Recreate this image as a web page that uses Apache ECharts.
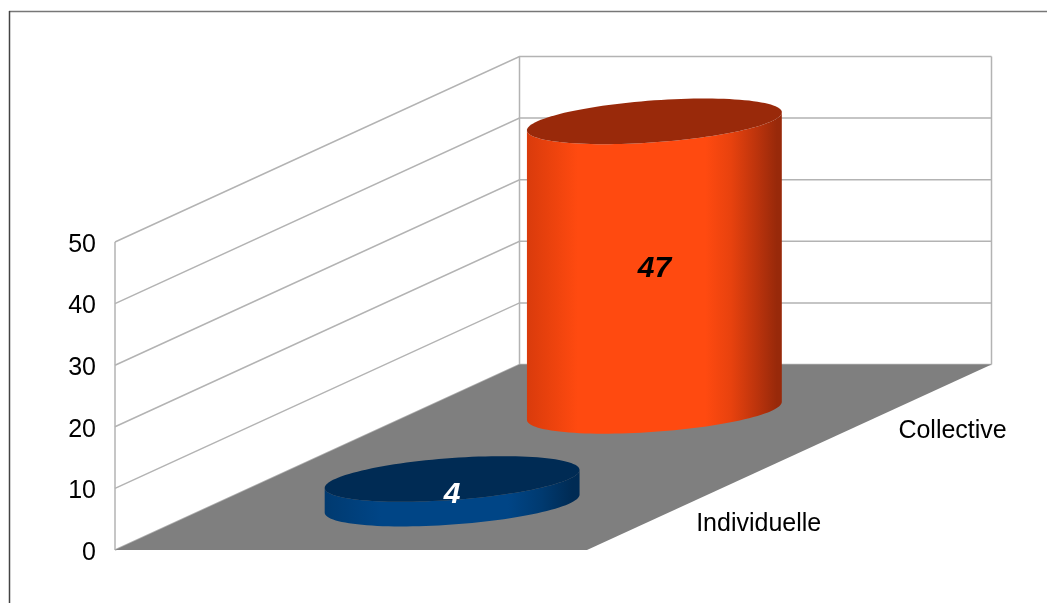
<!DOCTYPE html>
<html>
<head>
<meta charset="utf-8">
<style>html,body{margin:0;padding:0;background:#fff}#c{width:1047px;height:603px}</style>
<script src="https://cdn.jsdelivr.net/npm/echarts@6/dist/echarts.min.js"></script>
</head>
<body>
<div id="c"></div>
<script>
const categories = ['Individuelle', 'Collective'];
const values = [4, 47];
const yTicks = [0, 10, 20, 30, 40, 50];

const FONT = '"Liberation Sans", Arial, sans-serif';
const DEPTH = [404.5, -185.5];
const GRID_COLOR = '#b3b3b3';
const RADIUS_RATIO = 0.27, TILT = -9 / 127.5, MINOR = 21 / 127.5;
const SIDE = [
  [[0, '#003a70'], [0.1, '#003f7a'], [0.22, '#004586'], [0.72, '#004586'], [0.85, '#003a70'], [0.97, '#002b54'], [1, '#002b54']],
  [[0, '#d93b0c'], [0.08, '#e8410d'], [0.2, '#ff4a10'], [0.7, '#ff4a10'], [0.8, '#e8420e'], [0.9, '#bd340c'], [0.98, '#98290a'], [1, '#98290a']]
];
const TOP = ['#002b54', '#99290a'];

function ellipsePoint(c, a, t) {
  return [c[0] + a * Math.cos(t), c[1] + a * TILT * Math.cos(t) + a * MINOR * Math.sin(t)];
}
function ellipseArc(c, a, from, to, n) {
  const pts = [];
  for (let i = 0; i <= n; i++) pts.push(ellipsePoint(c, a, from + (to - from) * i / n));
  return pts;
}

const chart = echarts.init(document.getElementById('c'), null, { renderer: 'canvas' });
chart.setOption({
  animation: false,
  backgroundColor: '#fff',
  grid: { left: 115, top: 242, width: 472, height: 308 },
  xAxis: { type: 'value', min: 0, max: 1, show: false },
  yAxis: {
    type: 'value', min: 0, max: 50, interval: 10,
    axisLine: { show: false }, axisTick: { show: false }, splitLine: { show: false },
    axisLabel: { margin: 19, color: '#000', verticalAlign: 'middle',
      formatter: '{a|{value}}',
      rich: { a: { fontSize: 25, color: '#000', fontFamily: FONT, padding: [6, 0, 0, 0] } } }
  },
  graphic: [
    { type: 'line', silent: true, shape: { x1: 9, y1: 11.5, x2: 1047, y2: 11.5 }, style: { stroke: '#777', lineWidth: 1.5 } },
    { type: 'line', silent: true, shape: { x1: 9.5, y1: 11, x2: 9.5, y2: 603 }, style: { stroke: '#444', lineWidth: 1.5 } }
  ],
  series: [
    {
      // side and back walls, one polyline per value tick
      type: 'custom', z: 1, silent: true,
      data: yTicks.map(t => [0, t]),
      renderItem(params, api) {
        const a = api.coord([0, api.value(1)]);
        const b = [a[0] + DEPTH[0], a[1] + DEPTH[1]];
        const c = api.coord([1, api.value(1)]);
        const d = [c[0] + DEPTH[0], c[1] + DEPTH[1]];
        const children = [{ type: 'polyline', shape: { points: [a, b, d] },
          style: { stroke: GRID_COLOR, lineWidth: 1.5, fill: null } }];
        if (params.dataIndex === 0) {
          const top = api.coord([0, yTicks[yTicks.length - 1]]);
          const topR = api.coord([1, yTicks[yTicks.length - 1]]);
          const vert = (p, q) => ({ type: 'line', shape: { x1: p[0], y1: p[1], x2: q[0], y2: q[1] },
            style: { stroke: GRID_COLOR, lineWidth: 1.5 } });
          children.push(vert(a, top));
          children.push(vert(b, [top[0] + DEPTH[0], top[1] + DEPTH[1]]));
          children.push(vert(d, [topR[0] + DEPTH[0], topR[1] + DEPTH[1]]));
        }
        return { type: 'group', children };
      }
    },
    {
      // floor
      type: 'custom', z: 2, silent: true,
      data: [[0, 0]],
      renderItem(params, api) {
        const a = api.coord([0, 0]), b = api.coord([1, 0]);
        return { type: 'polygon', shape: { points: [a, b,
          [b[0] + DEPTH[0], b[1] + DEPTH[1]], [a[0] + DEPTH[0], a[1] + DEPTH[1]]] },
          style: { fill: '#7f7f7f' } };
      }
    },
    {
      // cylinders and depth-axis labels
      type: 'custom', z: 3, silent: true,
      data: values.map((v, i) => [0.5, v, i]),
      renderItem(params, api) {
        const i = api.value(2);
        const depth = (i + 0.5) / categories.length;
        const ox = DEPTH[0] * depth, oy = DEPTH[1] * depth;
        const base0 = api.coord([api.value(0), 0]);
        const top0 = api.coord([api.value(0), api.value(1)]);
        const base = [base0[0] + ox, base0[1] + oy];
        const top = [top0[0] + ox, top0[1] + oy];
        const a = api.size([RADIUS_RATIO, 0])[0];
        const right = api.coord([1, 0]);
        const side = ellipseArc(base, a, 0, Math.PI, 60).concat(ellipseArc(top, a, Math.PI, 0, 60));
        return {
          type: 'group',
          children: [
            { type: 'polygon', shape: { points: side }, style: {
              fill: new echarts.graphic.LinearGradient(0, 0, 1, 0,
                SIDE[i].map(s => ({ offset: s[0], color: s[1] }))) } },
            { type: 'polygon', shape: { points: ellipseArc(top, a, 0, Math.PI * 2, 120) },
              style: { fill: TOP[i] } },
            { type: 'text', style: {
              text: String(api.value(1)), x: top[0], y: (top[1] + base[1]) / 2 + 3,
              align: 'center', verticalAlign: 'middle',
              font: 'italic bold 30px ' + FONT, fill: i === 0 ? '#fff' : '#000' } },
            { type: 'text', style: {
              text: categories[i], x: right[0] + ox + 8, y: right[1] + oy + 20,
              align: 'left', verticalAlign: 'middle',
              font: '25px ' + FONT, fill: '#000' } }
          ]
        };
      }
    }
  ]
});
</script>
</body>
</html>
